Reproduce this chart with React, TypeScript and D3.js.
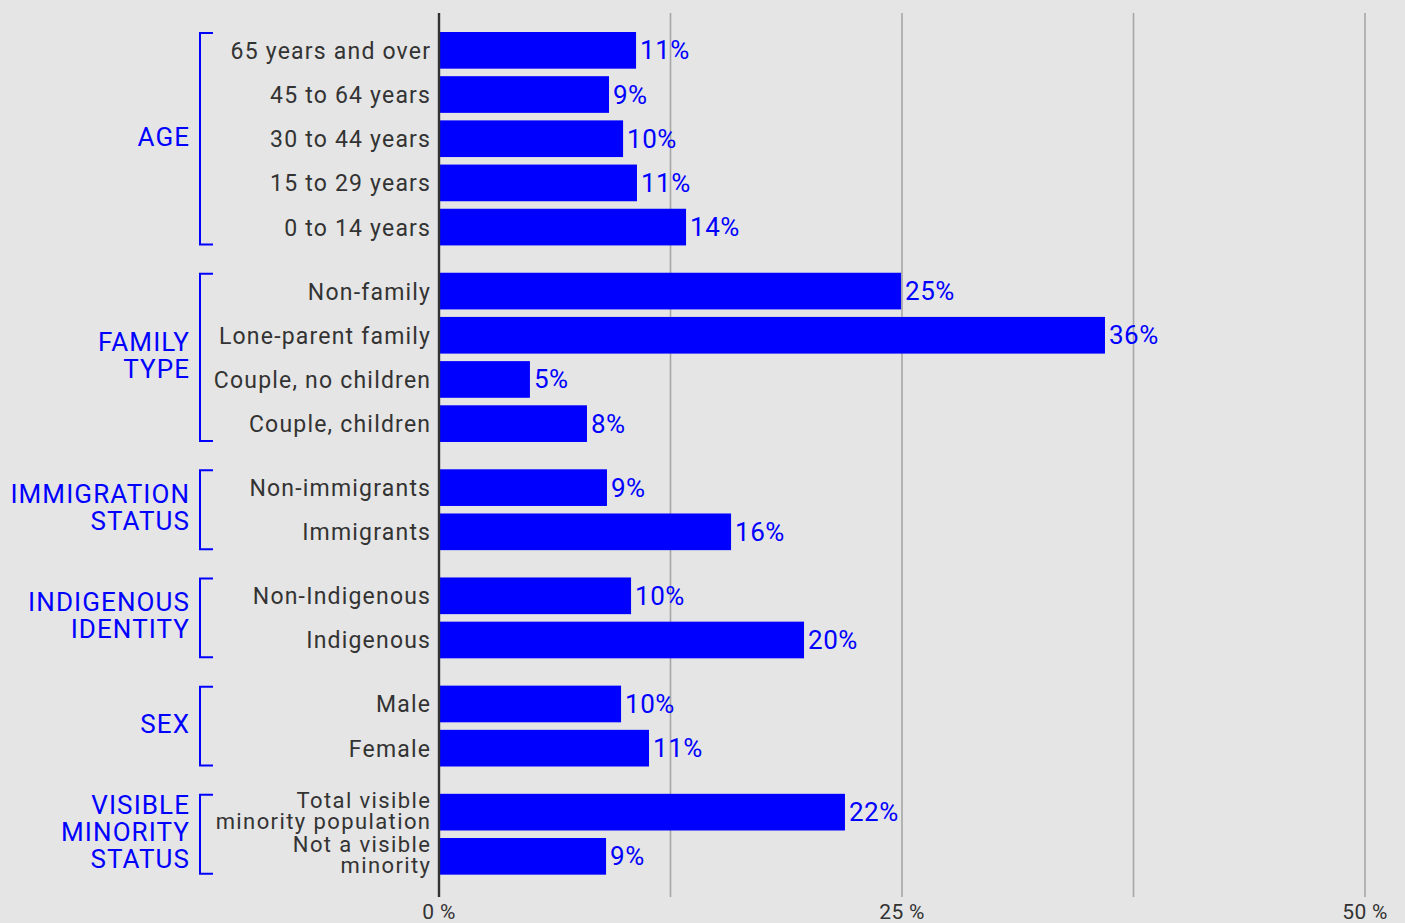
import React from "react";
import * as d3 from "d3";

const groupLabelLines: string[][] = [
  ["AGE"],
  ["FAMILY", "TYPE"],
  ["IMMIGRATION", "STATUS"],
  ["INDIGENOUS", "IDENTITY"],
  ["SEX"],
  ["VISIBLE", "MINORITY", "STATUS"],
];

const categories: string[] = [
  "65 years and over",
  "45 to 64 years",
  "30 to 44 years",
  "15 to 29 years",
  "0 to 14 years",
  "Non-family",
  "Lone-parent family",
  "Couple, no children",
  "Couple, children",
  "Non-immigrants",
  "Immigrants",
  "Non-Indigenous",
  "Indigenous",
  "Male",
  "Female",
  "Total visible\nminority population",
  "Not a visible\nminority",
];

const categoryGroup: number[] = [0, 0, 0, 0, 0, 1, 1, 1, 1, 2, 2, 3, 3, 4, 4, 5, 5];

const values: number[] = [
  10.64, 9.18, 9.94, 10.69, 13.34, 24.95, 35.96, 4.91, 7.99, 9.07, 15.77, 10.37,
  19.71, 9.83, 11.34, 21.92, 9.02,
];

const valueLabels: string[] = [
  "11%", "9%", "10%", "11%", "14%", "25%", "36%", "5%", "8%", "9%", "16%", "10%",
  "20%", "10%", "11%", "22%", "9%",
];

const gridTicks: number[] = [0, 12.5, 25, 37.5, 50];
const tickLabels: number[] = [0, 25, 50];

const W = 1405;
const H = 923;
const BLUE = "#0000ff";
const TEXT = "#333333";
const FONT = "Roboto, 'Noto Sans', sans-serif";

export default function App() {
  const x = d3.scaleLinear().domain([0, 50]).range([439, 1365]);
  const gapRatio = 0.448;
  const pos = categories.map((_, i) => i + categoryGroup[i] * gapRatio);
  const lastPos = pos[pos.length - 1];
  const y = d3.scaleLinear().domain([0, lastPos]).range([32, 838]);
  const step = y(1) - y(0);
  const barH = step * 0.83;

  const groupIdx = d3.range(groupLabelLines.length);
  const groupExtents = groupIdx.map((g) => {
    const idx = categories.map((_, i) => i).filter((i) => categoryGroup[i] === g);
    const top = y(pos[idx[0]]);
    const bottom = y(pos[idx[idx.length - 1]]) + barH;
    return { top, bottom };
  });

  const rowFont = 23;
  const rowLS = 1.2;
  const multiFont = 22;
  const multiLS = 1.4;
  const rowLH = 21;
  const groupFont = 26;
  const groupLS = 1.1;
  const groupLH = 27;

  return (
    <svg
      width={W}
      height={H}
      style={{ position: "absolute", left: 0, top: 0, display: "block" }}
      fontFamily={FONT}
    >
      <rect x={0} y={0} width={W} height={H} fill="#e5e5e5" />
      {gridTicks.map((t) => (
        <line
          key={"g" + t}
          x1={x(t)}
          x2={x(t)}
          y1={13}
          y2={897}
          stroke="#a6a6a6"
          strokeWidth={1.6}
        />
      ))}
      {categories.map((c, i) => {
        const yt = y(pos[i]);
        const cy = yt + barH / 2;
        const lines = c.split("\n");
        const multi = lines.length > 1;
        const ls = multi ? multiLS : rowLS;
        return (
          <g key={c}>
            <rect x={x(0)} y={yt} width={x(values[i]) - x(0)} height={barH} fill={BLUE} />
            <text
              x={x(values[i]) + 4}
              y={cy + 9}
              fill={BLUE}
              fontSize={26}
              letterSpacing={0.5}
            >
              {valueLabels[i]}
            </text>
            <text
              textAnchor="end"
              fill={TEXT}
              fontSize={multi ? multiFont : rowFont}
              letterSpacing={ls}
            >
              {lines.map((l, k) => (
                <tspan
                  key={k}
                  x={430 + ls}
                  y={cy + 8.5 + (multi ? -2 : 0) + (k - (lines.length - 1) / 2) * rowLH}
                >
                  {l}
                </tspan>
              ))}
            </text>
          </g>
        );
      })}
      {groupIdx.map((g) => {
        const { top, bottom } = groupExtents[g];
        const cy = (top + bottom) / 2;
        const lines = groupLabelLines[g];
        return (
          <g key={"grp" + g}>
            <path
              d={`M213,${top + 1} H200 V${bottom - 1} H213`}
              fill="none"
              stroke={BLUE}
              strokeWidth={2}
            />
            <text textAnchor="end" fill={BLUE} fontSize={groupFont} letterSpacing={groupLS}>
              {lines.map((l, k) => (
                <tspan
                  key={k}
                  x={189 + groupLS}
                  y={cy + 7 + (k - (lines.length - 1) / 2) * groupLH}
                >
                  {l}
                </tspan>
              ))}
            </text>
          </g>
        );
      })}
      <line x1={x(0)} x2={x(0)} y1={13} y2={897} stroke="#333" strokeWidth={2.4} />
      {tickLabels.map((t) => (
        <text
          key={"t" + t}
          x={x(t)}
          y={919}
          textAnchor="middle"
          fill={TEXT}
          fontSize={21}
          letterSpacing={0.3}
        >
          {t + " %"}
        </text>
      ))}
    </svg>
  );
}
